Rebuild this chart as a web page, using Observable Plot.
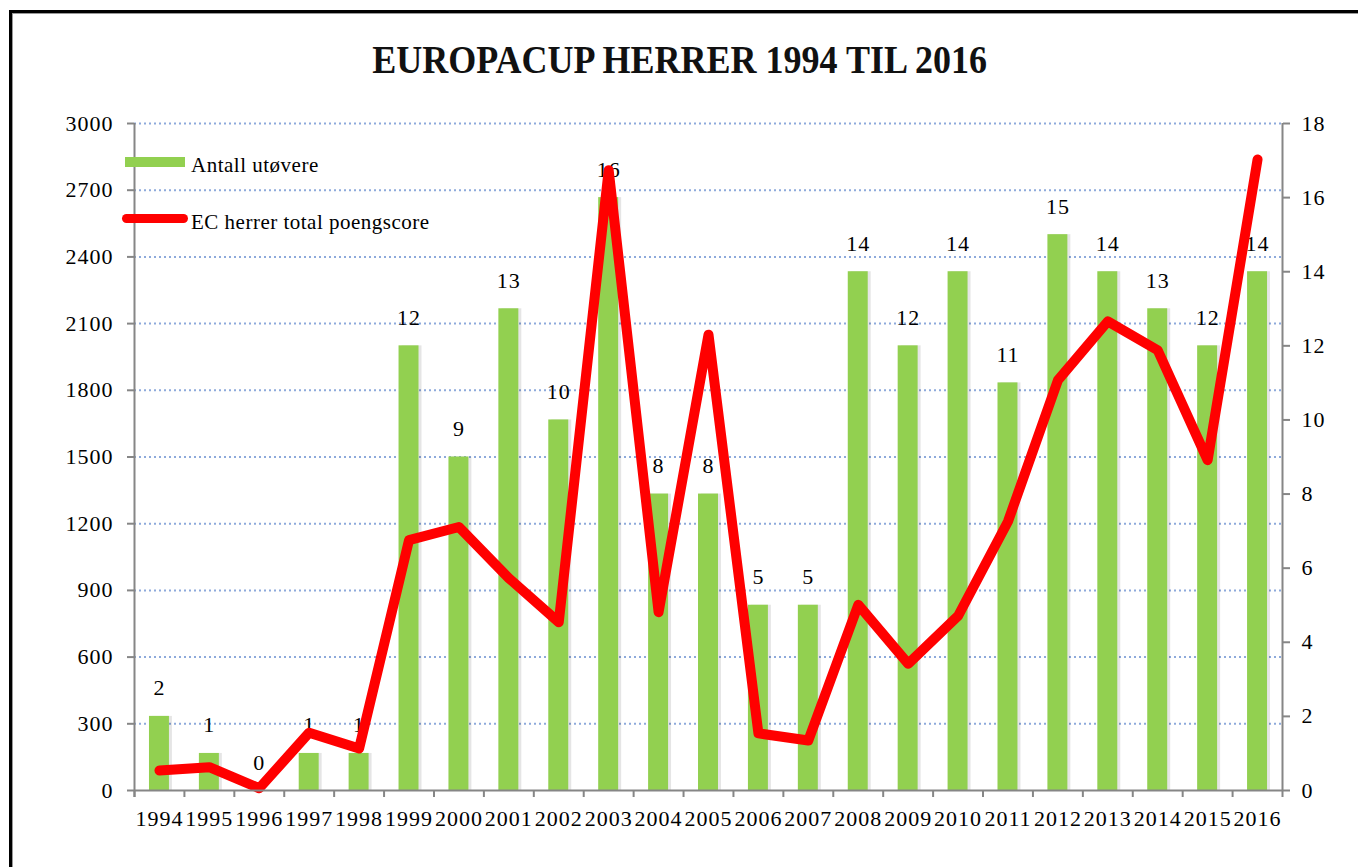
<!DOCTYPE html>
<html>
<head>
<meta charset="utf-8">
<script src="https://cdn.jsdelivr.net/npm/d3@7"></script>
<script src="https://cdn.jsdelivr.net/npm/@observablehq/plot@0.6"></script>
<style>
  html, body { margin: 0; padding: 0; background: #fff; }
  #wrap { position: relative; width: 1358px; height: 867px; overflow: hidden; background: #fff; }
  #border { position: absolute; left: 9px; top: 10px; width: 1400px; height: 900px; border: 3px solid #000; box-shadow: inset 1px 1px 0 #999; }
  #title { position: absolute; left: 0; top: 34px; width: 1358px; text-align: center; font-family: "Liberation Serif", serif; font-weight: bold; font-size: 40px; line-height: 52px; color: #111; transform: scaleX(0.9); transform-origin: 685px 0; }
  #chart { position: absolute; left: 0; top: 100px; }
  .leg { position: absolute; font-family: "Liberation Serif", serif; font-size: 21px; color: #000; line-height: 24px; white-space: nowrap; letter-spacing: 0.5px; }
  .sw { position: absolute; }
</style>
</head>
<body>
<div id="wrap">
  <div id="border"></div>
  <div id="title">EUROPACUP HERRER 1994 TIL 2016</div>
  <div id="chart"></div>
  <div class="sw" style="left:125px;top:157px;width:60px;height:10px;background:#92d050;"></div>
  <div class="leg" style="left:191px;top:153px;">Antall utøvere</div>
  <div class="sw" style="left:122px;top:214px;width:66px;height:9px;background:#ff0000;border-radius:5px;"></div>
  <div class="leg" style="left:191px;top:210px;">EC herrer total poengscore</div>
</div>
<script>
// ---- data ----
const years = ["1994","1995","1996","1997","1998","1999","2000","2001","2002","2003","2004","2005","2006","2007","2008","2009","2010","2011","2012","2013","2014","2015","2016"];
const athletes = [2,1,0,1,1,12,9,13,10,16,8,8,5,5,14,12,14,11,15,14,13,12,14];
const scores = [90,105,10,260,189,1126,1185,955,757,2790,802,2050,257,225,835,570,785,1210,1845,2110,1980,1486,2838];
const leftTicks = [0,300,600,900,1200,1500,1800,2100,2400,2700,3000];
const rightTicks = [0,2,4,6,8,10,12,14,16,18];
const leftMax = 3000, rightMax = 18;

const rows = years.map((year, i) => ({year, athletes: athletes[i], score: scores[i]}));
const toRight = v => v * rightMax / leftMax;
const axisGray = "#868686";
const halfStep = (1358 - 134 - 76) / years.length / 2;

const chart = Plot.plot({
  width: 1358,
  height: 767,
  marginTop: 23,
  marginBottom: 77,
  marginLeft: 134,
  marginRight: 76,
  style: {fontFamily: "'Liberation Serif', serif", fontSize: "22px", color: "#000", background: "transparent", overflow: "visible", letterSpacing: "1px"},
  x: {type: "band", domain: years, paddingInner: 0.6, paddingOuter: 0.3, round: false, label: null},
  y: {domain: [0, rightMax], label: null},
  marks: [
    Plot.ruleY(leftTicks.filter(v => v > 0), {y: d => toRight(d), stroke: "#8eaadb", strokeWidth: 2, strokeDasharray: "2,3"}),
    Plot.barY(rows, {x: "year", y: "athletes", fill: "#000", fillOpacity: 0.10, dx: 3}),
    Plot.barY(rows, {x: "year", y: "athletes", fill: "#92d050"}),
    Plot.text(rows, {x: "year", y: "athletes", text: d => String(d.athletes), dy: -28, fontSize: 22}),
    Plot.line(rows, {x: "year", y: d => toRight(d.score), stroke: "#ff0000", strokeWidth: 10, strokeLinejoin: "round", strokeLinecap: "round"}),
    // axis lines
    Plot.ruleY([0], {stroke: axisGray, strokeWidth: 2}),
    Plot.ruleX([years[0]], {dx: -halfStep, stroke: axisGray, strokeWidth: 2, insetBottom: -7}),
    Plot.ruleX([years[years.length - 1]], {dx: halfStep, stroke: axisGray, strokeWidth: 2, insetBottom: -7}),
    Plot.ruleX(years, {x: d => d, dx: -halfStep, y1: 0, y2: 0, insetBottom: -7, stroke: axisGray, strokeWidth: 2}),
    Plot.axisY(leftTicks.map(toRight), {anchor: "left", tickSize: 7, tickPadding: 14, stroke: axisGray, strokeWidth: 2, tickFormat: d => String(Math.round(d * leftMax / rightMax)), label: null}),
    Plot.axisY(rightTicks, {anchor: "right", tickSize: 7, tickPadding: 12, stroke: axisGray, strokeWidth: 2, label: null}),
    Plot.axisX({tickSize: 0, tickPadding: 20, label: null})
  ]
});
document.getElementById("chart").appendChild(chart);
</script>
</body>
</html>
